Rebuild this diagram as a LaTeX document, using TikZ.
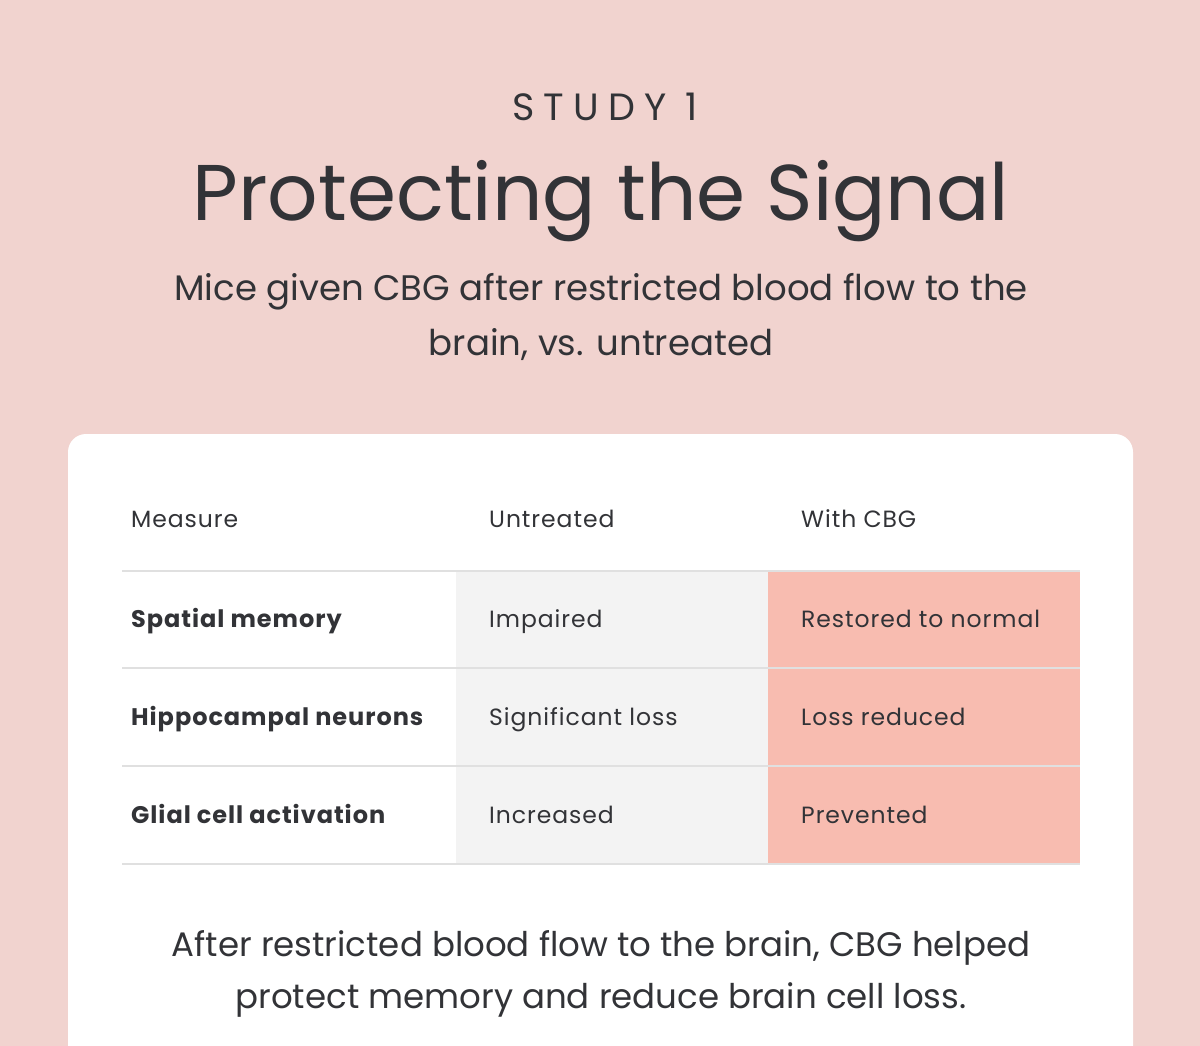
\documentclass[tikz,border=0pt]{standalone}
\usepackage{fontspec}
\setmainfont{Poppins}
\newfontfamily\studyfont[LetterSpace=24]{Poppins}
\newfontfamily\tabfont[LetterSpace=4]{Poppins}
\definecolor{bgpink}{RGB}{241,211,207}
\definecolor{ink}{RGB}{50,51,55}
\definecolor{rulegrey}{RGB}{224,224,224}
\definecolor{cellgrey}{RGB}{243,243,243}
\definecolor{salmon}{RGB}{248,188,176}
\begin{document}
\begin{tikzpicture}[x=1pt,y=-1pt,every node/.style={text=ink,inner sep=0pt},
  cell/.style={anchor=base west,font=\tabfont\fontsize{23.5}{26}\selectfont},
  rowhead/.style={cell,font=\tabfont\bfseries\fontsize{24}{26}\selectfont},
  line/.style={align=center,font=\fontsize{35.5}{55}\selectfont}]
\def \cA{131}\def \cB{489}\def \cC{801}
\useasboundingbox (0,0) rectangle (1200,1046);
\clip (0,0) rectangle (1200,1046);
\fill[bgpink] (0,0) rectangle (1200,1046);
\fill[white,rounded corners=18] (68,434) rectangle (1133,1100);
% heading
\node[anchor=base,font=\studyfont\fontsize{38}{40}\selectfont] (study) at (605,121) {STUDY 1};
\node[anchor=base,font=\fontsize{79}{90}\selectfont] (title) at (601,220) {Protecting the Signal};
% base of a two-line node = its last line
\node[anchor=base,line] (sub) at (601,355) {Mice given CBG after restricted blood flow to the\\brain, vs. untreated};
% table
\fill[cellgrey] (456,571) rectangle (768,864);
\fill[salmon] (768,571) rectangle (1080,864);
\foreach \y in {571,668,766,864}
  \draw[rulegrey,line width=2] (122,\y)--(1080,\y);
\node[cell] (hmeas) at (\cA,527) {Measure};
\node[cell] (huntr) at (\cB,527) {Untreated};
\node[cell] (hcbg) at (\cC,527) {With CBG};
\node[rowhead] (r1) at (\cA,627) {Spatial memory};
\node[cell] (r1u) at (\cB,627) {Impaired};
\node[cell] (r1c) at (\cC,627) {Restored to normal};
\node[rowhead] (r2) at (\cA,725) {Hippocampal neurons};
\node[cell] (r2u) at (\cB,725) {Significant loss};
\node[cell] (r2c) at (\cC,725) {Loss reduced};
\node[rowhead] (r3) at (\cA,823) {Glial cell activation};
\node[cell] (r3u) at (\cB,823) {Increased};
\node[cell] (r3c) at (\cC,823) {Prevented};
% note
\node[anchor=base,line,font=\fontsize{34}{52}\selectfont] (note) at (601,1008) {After restricted blood flow to the brain, CBG helped\\protect memory and reduce brain cell loss.};
\end{tikzpicture}
\end{document}
